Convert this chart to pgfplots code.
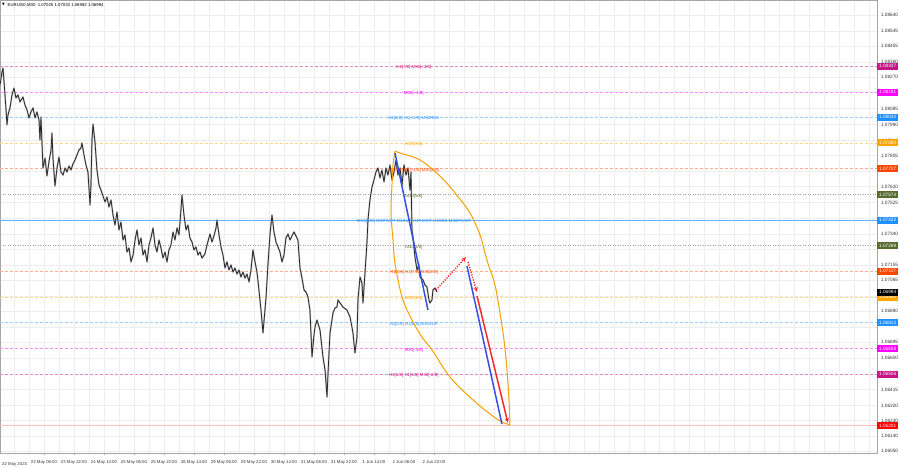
\documentclass[border=0pt]{standalone}
\usepackage{fontspec}
\setmainfont{Liberation Sans}
\newfontfamily\symfont{DejaVu Sans}
\usepackage{pgfplots}
\usepackage{pgfplotstable}
\pgfplotsset{compat=1.18}
\usetikzlibrary{arrows.meta}
\definecolor{mtorange}{HTML}{FFA500}
\definecolor{mtorred}{HTML}{FF4500}
\definecolor{mtdodger}{HTML}{1E90FF}
\definecolor{mtmag}{HTML}{FF00FF}
\definecolor{mtmvr}{HTML}{C71585}
\definecolor{mtolive}{HTML}{556B2F}
\definecolor{mtblue}{HTML}{3550E8}
\definecolor{mtred}{HTML}{FF2828}
\definecolor{mtellipse}{HTML}{F5A000}
\pgfplotsset{
  lvl/.style={forget plot, line width=0.6pt, dash pattern=on 3pt off 2pt},
  dotlvl/.style={forget plot, line width=0.6pt, gray!75, dash pattern=on 1pt off 1.5pt},
}
\pgfplotstableread{
idx price
13.1 1.08224
15.2 1.08301
16.3 1.08325
18.4 1.08165
19.5 1.08076
20.5 1.07987
21.6 1.08046
23.7 1.08088
25.9 1.08165
28.0 1.08206
30.1 1.08147
32.3 1.08165
34.4 1.08123
37.6 1.08153
39.7 1.08105
41.9 1.08076
44.0 1.08028
46.1 1.08064
48.3 1.08088
50.4 1.08028
52.5 1.08064
54.7 1.08016
55.7 1.07897
56.8 1.08034
58.9 1.07731
61.1 1.07790
63.2 1.07684
65.3 1.07767
67.5 1.07838
68.5 1.07939
69.6 1.07790
71.7 1.07624
73.9 1.07731
76.0 1.07796
78.1 1.07707
80.3 1.07689
82.4 1.07731
84.5 1.07707
86.7 1.07743
88.8 1.07719
90.9 1.07755
93.1 1.07779
95.2 1.07808
97.3 1.07838
99.5 1.07850
100.5 1.07880
102.7 1.07808
104.8 1.07749
106.9 1.07707
109.1 1.07511
110.1 1.07630
111.2 1.07897
112.3 1.07992
114.4 1.07886
116.5 1.07719
118.7 1.07630
120.8 1.07600
122.9 1.07565
125.1 1.07529
127.2 1.07559
129.3 1.07499
131.5 1.07541
133.6 1.07452
135.7 1.07392
137.9 1.07470
140.0 1.07363
142.1 1.07410
144.3 1.07303
146.4 1.07333
148.5 1.07232
150.7 1.07256
152.8 1.07173
155.0 1.07214
157.1 1.07303
159.2 1.07363
161.3 1.07274
163.5 1.07315
165.6 1.07214
167.7 1.07244
169.9 1.07173
172.0 1.07274
174.1 1.07315
176.3 1.07375
178.4 1.07274
180.5 1.07232
182.7 1.07303
184.8 1.07256
186.9 1.07196
189.1 1.07232
191.2 1.07173
193.3 1.07244
195.5 1.07274
197.6 1.07351
199.7 1.07303
201.9 1.07375
204.0 1.07333
206.1 1.07482
207.2 1.07571
209.3 1.07452
211.5 1.07363
213.6 1.07392
215.7 1.07315
217.9 1.07291
220.0 1.07244
222.1 1.07262
224.3 1.07214
226.4 1.07232
228.5 1.07196
231.7 1.07220
233.9 1.07274
237.1 1.07339
239.2 1.07291
241.3 1.07327
243.5 1.07375
244.5 1.07422
246.7 1.07333
248.8 1.07262
250.9 1.07214
253.1 1.07137
255.2 1.07173
257.3 1.07125
259.5 1.07155
261.6 1.07113
263.7 1.07137
265.9 1.07101
268.0 1.07125
270.1 1.07083
272.3 1.07113
274.4 1.07077
276.5 1.07101
278.7 1.07054
280.8 1.07125
282.9 1.07244
285.1 1.07173
287.2 1.07113
289.3 1.07006
291.5 1.06887
293.6 1.06751
295.7 1.06887
296.8 1.06959
298.9 1.07155
301.1 1.07339
303.2 1.07452
305.3 1.07351
307.5 1.07291
309.6 1.07262
311.7 1.07232
313.9 1.07173
316.0 1.07214
318.1 1.07315
320.3 1.07339
322.4 1.07303
324.5 1.07327
326.7 1.07351
328.8 1.07327
330.9 1.07303
333.1 1.07137
335.2 1.07077
337.4 1.07006
339.5 1.06994
341.6 1.06965
343.7 1.06887
345.9 1.06608
348.0 1.06739
349.1 1.06786
351.2 1.06828
354.4 1.06769
357.6 1.06608
359.8 1.06531
361.9 1.06370
363.0 1.06513
365.1 1.06751
368.3 1.06870
370.4 1.06899
372.5 1.06905
373.6 1.06947
375.8 1.06929
378.9 1.06905
383.2 1.06887
386.4 1.06846
388.5 1.06786
389.6 1.06751
391.7 1.06632
393.9 1.06727
394.9 1.06947
397.1 1.07083
399.2 1.07048
400.3 1.06929
402.4 1.07107
404.5 1.07285
405.6 1.07422
407.7 1.07541
409.9 1.07618
412.0 1.07660
414.1 1.07707
416.3 1.07731
418.4 1.07672
420.5 1.07719
422.7 1.07648
424.8 1.07731
426.9 1.07689
429.1 1.07749
431.2 1.07660
433.4 1.07707
435.5 1.07779
437.6 1.07689
439.8 1.07731
441.9 1.07630
444.0 1.07749
446.2 1.07689
448.3 1.07731
450.4 1.07600
451.5 1.07707
452.5 1.07363
453.6 1.07321
455.7 1.07202
457.9 1.07125
460.0 1.07155
461.1 1.07083
464.3 1.07066
466.4 1.07036
468.5 1.07024
470.7 1.06947
471.7 1.06929
473.9 1.06947
474.9 1.07006
477.1 1.07018
479.2 1.06994
}\pricedata
\newcommand{\lbl}[3]{\node[text=#1, font=\fontsize{4.4}{5}\selectfont, yshift=-1.5pt] at (axis cs:454.5,#2) {#3};}
\newcommand{\pbox}[3]{\node[fill=#1, text=white, anchor=west, minimum width=21pt, minimum height=7pt, inner sep=0pt, font=\fontsize{4.7}{5}\selectfont] at (axis cs:948.6,#2) {#3};}
\begin{document}
\begin{tikzpicture}
\useasboundingbox (0,-15pt) rectangle (900pt,453pt);
\begin{axis}[
  at={(0,0)}, anchor=south west,
  width=877pt, height=453pt, scale only axis,
  xmin=13.07, xmax=948.6, ymin=1.060377, ymax=1.087292,
  clip=false,
  axis line style={draw=gray!70, line width=0.6pt},
  xtick={60,92,124,156,188,220,252,284,316,348,380,412,444,476},
  xticklabels={23 May 06:00,23 May 22:00,24 May 14:00,25 May 06:00,25 May 22:00,26 May 14:00,29 May 06:00,29 May 22:00,30 May 14:00,31 May 06:00,31 May 22:00,1 Jun 14:00,2 Jun 06:00,2 Jun 22:00},
  minor xtick={28,44,...,940},
  ytick={1.08640,1.08545,1.08455,1.08360,1.08270,1.08180,1.08085,1.07990,1.07895,1.07805,1.07710,1.07620,1.07525,1.07435,1.07340,1.07250,1.07155,1.07065,1.06970,1.06880,1.06785,1.06695,1.06600,1.06505,1.06415,1.06320,1.06230,1.06140,1.06050},
  yticklabels={1.08640,1.08545,1.08455,1.08360,1.08270,{},1.08085,1.07990,1.07895,1.07805,{},1.07620,1.07525,{},1.07340,{},1.07155,1.07065,{},1.06880,{},1.06695,1.06600,{},1.06415,1.06320,1.06230,1.06140,1.06050},
  yticklabel pos=right,
  tick label style={font=\fontsize{4.7}{5}\selectfont, text=black!80},
  xticklabel style={font=\fontsize{4.3}{5}\selectfont, anchor=base, yshift=-9pt},
  yticklabel style={xshift=-1.5pt},
  xmajorgrids=false, xminorgrids=true, ymajorgrids=true,
  grid style={gray!13, line width=0.4pt},
  minor grid style={gray!13, line width=0.4pt},
  minor tick length=0pt, major tick length=2pt,
  tick align=outside,
  xtick style={gray!70, line width=0.4pt},
  ytick style={draw=none},
]
% level lines
\addplot[lvl, mtmvr!50] coordinates {(13.07,1.08337) (948.6,1.08337)};
\addplot[lvl, mtmag!45] coordinates {(13.07,1.08181) (948.6,1.08181)};
\addplot[lvl, mtdodger!45] coordinates {(13.07,1.08032) (948.6,1.08032)};
\addplot[lvl, mtorange!45] coordinates {(13.07,1.07880) (948.6,1.07880)};
\addplot[lvl, mtorred!45] coordinates {(13.07,1.07727) (948.6,1.07727)};
\addplot[dotlvl] coordinates {(13.07,1.07574) (948.6,1.07574)};
\addplot[forget plot, line width=0.9pt, mtdodger!70] coordinates {(13.07,1.07422) (948.6,1.07422)};
\addplot[dotlvl] coordinates {(13.07,1.07269) (948.6,1.07269)};
\addplot[lvl, mtorred!45] coordinates {(13.07,1.07117) (948.6,1.07117)};
\addplot[lvl, mtorange!45] coordinates {(13.07,1.06964) (948.6,1.06964)};
\addplot[lvl, mtdodger!45] coordinates {(13.07,1.06812) (948.6,1.06812)};
\addplot[lvl, mtmag!45] coordinates {(13.07,1.06659) (948.6,1.06659)};
\addplot[lvl, mtmvr!50] coordinates {(13.07,1.06506) (948.6,1.06506)};
\addplot[forget plot, line width=1.4pt, mtred!30] coordinates {(13.07,1.06201) (948.6,1.06201)};
% price (M30, approx.): gray wick body + dark line
\addplot[gray!55, line width=1.6pt, line join=round] table[x=idx, y=price] {\pricedata};
\addplot[black!85, line width=0.75pt, line join=round] table[x=idx, y=price] {\pricedata};
% level labels
\lbl{mtmvr}{1.08337}{H4[7/8] M30[+2/8]}
\lbl{mtmag}{1.08181}{M30[+1/8]}
\lbl{mtdodger}{1.08032}{H4[6/8] H1[+2/8] M30RES}
\lbl{mtorange}{1.07880}{M30[7/8]}
\lbl{mtorred}{1.07727}{H4[5/8] H1[+1/8] M30[6/8]}
\lbl{mtolive}{1.07574}{M30[5/8]}
\lbl{mtdodger}{1.07422}{MN1[6/8] W1PIVOT D1SUP H4PIVOT H1RES M30PIVOT}
\lbl{mtolive}{1.07269}{M30[3/8]}
\lbl{mtorred}{1.07117}{H4[3/8] H1[7/8] M30[2/8]}
\lbl{mtorange}{1.06964}{M30[1/8]}
\lbl{mtdodger}{1.06812}{H4[2/8] H1[6/8] M30SUP}
\lbl{mtmag}{1.06659}{M30[-1/8]}
\lbl{mtmvr}{1.06506}{H4[1/8] H1[5/8] M30[-2/8]}
% ellipse (two arcs)
\addplot[mtellipse, line width=1pt, smooth, tension=0.55] coordinates {
(434.4,1.07832) (439.7,1.07820) (461.1,1.07779) (482.4,1.07683) (498.4,1.07583) (514.4,1.07464) (525.1,1.07333) (532.5,1.07184) (541.1,1.07036) (546.4,1.06869) (550.7,1.06709) (553.9,1.06531) (556.0,1.06353) (557.1,1.06204)};
\addplot[mtellipse, line width=1pt, smooth, tension=0.55] coordinates {
(434.4,1.07832) (432.3,1.07749) (431.2,1.07630) (430.2,1.07464) (432.3,1.07303) (434.4,1.07167) (441.9,1.06965) (452.5,1.06828) (463.2,1.06727) (473.9,1.06650) (493.1,1.06489) (517.6,1.06353) (535.7,1.06270) (546.4,1.06228) (557.1,1.06204)};
% projection lines
\addplot[mtblue, line width=1.5pt] coordinates {(434.4,1.07820) (469.6,1.06887)};
\addplot[mtblue, line width=1.5pt] coordinates {(511.2,1.07149) (548.5,1.06210)};
\addplot[mtred, line width=1.5pt, -{Stealth[length=5pt,width=4pt]}] coordinates {(521.9,1.06971) (554.9,1.06216)};
\addplot[mtred, line width=1.3pt, dash pattern=on 1.3pt off 1.3pt, -{Stealth[length=5pt,width=4.5pt]}] coordinates {(478.2,1.07006) (510.1,1.07202)};
\addplot[mtred, line width=1.3pt, dash pattern=on 1.3pt off 1.3pt, -{Stealth[length=5pt,width=4.5pt]}] coordinates {(512.3,1.07173) (521.9,1.06994)};
% right price boxes
\pbox{mtmvr}{1.08337}{1.08337}
\pbox{mtmag}{1.08181}{1.08181}
\pbox{mtdodger}{1.08032}{1.08032}
\pbox{mtorange}{1.07880}{1.07880}
\pbox{mtorred}{1.07727}{1.07727}
\pbox{mtolive}{1.07574}{1.07574}
\pbox{mtdodger}{1.07422}{1.07422}
\pbox{mtolive}{1.07269}{1.07269}
\pbox{mtorred}{1.07117}{1.07117}
\pbox{mtorange}{1.06964}{1.06964}
\pbox{black}{1.06994}{1.06994}
\pbox{mtdodger}{1.06812}{1.06812}
\pbox{mtmag}{1.06659}{1.06659}
\pbox{mtmvr}{1.06506}{1.06506}
\pbox{red}{1.06201}{1.06201}
% title and first date
\node[anchor=west, font=\symfont\fontsize{3.5}{4}\selectfont, inner sep=0pt] at (rel axis cs:0,1) [xshift=2pt, yshift=-5pt] {▼};
\node[anchor=west, font=\fontsize{4.3}{5}\selectfont, inner sep=0pt] at (rel axis cs:0,1) [xshift=7.5pt, yshift=-5pt] {EURUSD,M30\ \ 1.07025 1.07033 1.06982 1.06994};
\node[anchor=base west, font=\fontsize{4.3}{5}\selectfont, inner sep=0pt, text=black!80] at (rel axis cs:0,0) [xshift=2pt, yshift=-12.5pt] {22 May 2023};
\end{axis}
\end{tikzpicture}
\end{document}
